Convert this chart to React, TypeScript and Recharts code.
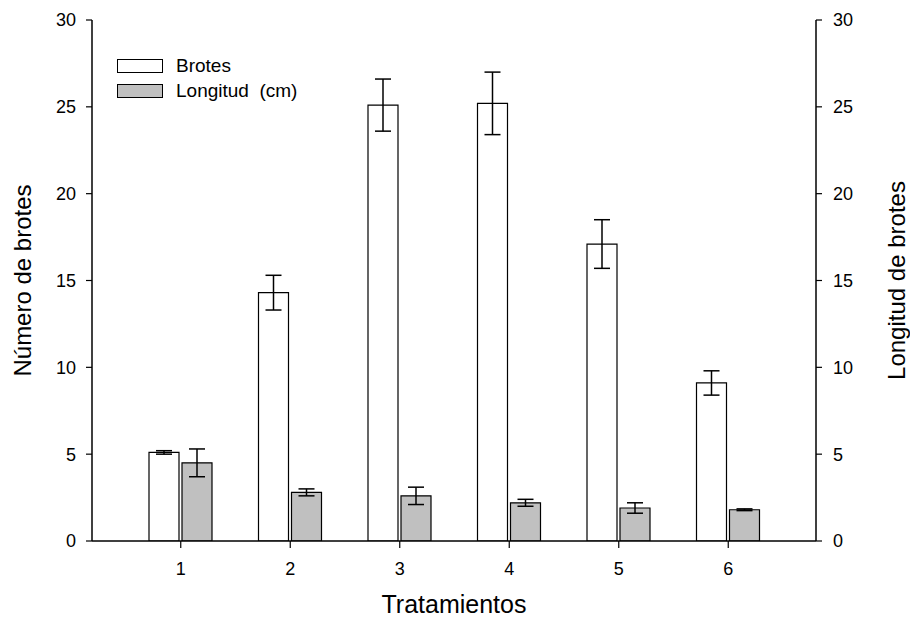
import { BarChart, Bar, XAxis, YAxis, ErrorBar, Label } from 'recharts';

const tratamientos = ['1', '2', '3', '4', '5', '6'];
const brotes = [5.1, 14.3, 25.1, 25.2, 17.1, 9.1];
const brotesErr = [0.1, 1.0, 1.5, 1.8, 1.4, 0.7];
const longitud = [4.5, 2.8, 2.6, 2.2, 1.9, 1.8];
const longitudErr = [0.8, 0.2, 0.5, 0.2, 0.3, 0.05];
const yTicks = [0, 5, 10, 15, 20, 25, 30];

const data = tratamientos.map((t, i) => ({
  t,
  brotes: brotes[i],
  brotesErr: brotesErr[i],
  longitud: longitud[i],
  longitudErr: longitudErr[i],
}));

const FONT = '"Liberation Sans", Arial, sans-serif';
const tickStyle = { fontSize: 18, fill: '#000', fontFamily: FONT };
const titleStyle = { fontSize: 24, fill: '#000', fontFamily: FONT, textAnchor: 'middle' as const };
const axisLine = { stroke: '#000', strokeWidth: 1.5 };
const tickLine = { stroke: '#000', strokeWidth: 1.2 };

// legend sits inside the plot, top left
function LegendBox() {
  const rows = [
    { label: 'Brotes', fill: '#fff' },
    { label: 'Longitud  (cm)', fill: '#c0c0c0' },
  ];
  return (
    <div
      style={{
        position: 'absolute',
        left: 117,
        top: 53,
        fontFamily: FONT,
        fontSize: 19,
        color: '#000',
      }}
    >
      {rows.map((r) => (
        <div key={r.label} style={{ display: 'flex', alignItems: 'center', height: 25 }}>
          <span
            style={{
              display: 'inline-block',
              width: 44,
              height: 12,
              background: r.fill,
              border: '1px solid #000',
              marginRight: 13,
            }}
          />
          <span style={{ whiteSpace: 'pre' }}>{r.label}</span>
        </div>
      ))}
    </div>
  );
}

export default function App() {
  return (
    <div style={{ position: 'absolute', left: 0, top: 0, width: 910, height: 624, background: '#fff' }}>
      <BarChart
        width={910}
        height={624}
        data={data}
        margin={{ top: 20, right: 0, bottom: 0, left: 0 }}
        barSize={30}
        barGap={3}
        barCategoryGap={0}
      >
        <XAxis
          dataKey="t"
          height={83}
          padding={{ left: 34, right: 33 }}
          tick={tickStyle}
          tickSize={7}
          tickMargin={14}
          axisLine={axisLine}
          tickLine={tickLine}
        >
          <Label value="Tratamientos" position="center" dy={22} style={{ ...titleStyle, fontSize: 25 }} />
        </XAxis>
        <YAxis
          yAxisId="left"
          orientation="left"
          width={92}
          domain={[0, 30]}
          ticks={yTicks}
          tick={tickStyle}
          tickSize={6}
          tickMargin={10}
          axisLine={axisLine}
          tickLine={tickLine}
          allowDataOverflow
        >
          <Label value="Número de brotes" angle={-90} position="center" dx={-24} style={titleStyle} />
        </YAxis>
        <YAxis
          yAxisId="right"
          orientation="right"
          width={94}
          domain={[0, 30]}
          ticks={yTicks}
          tick={tickStyle}
          tickSize={6}
          tickMargin={11}
          axisLine={axisLine}
          tickLine={tickLine}
          allowDataOverflow
        >
          <Label value="Longitud de brotes" angle={-90} position="center" dx={33} style={titleStyle} />
        </YAxis>
        <Bar
          yAxisId="left"
          dataKey="brotes"
          name="Brotes"
          fill="#ffffff"
          stroke="#000"
          strokeWidth={1.2}
          isAnimationActive={false}
        >
          <ErrorBar dataKey="brotesErr" direction="y" width={8} stroke="#000" strokeWidth={1.5} />
        </Bar>
        <Bar
          yAxisId="left"
          dataKey="longitud"
          name="Longitud (cm)"
          fill="#c0c0c0"
          stroke="#000"
          strokeWidth={1.2}
          isAnimationActive={false}
        >
          <ErrorBar dataKey="longitudErr" direction="y" width={8} stroke="#000" strokeWidth={1.5} />
        </Bar>
      </BarChart>
      <LegendBox />
    </div>
  );
}
